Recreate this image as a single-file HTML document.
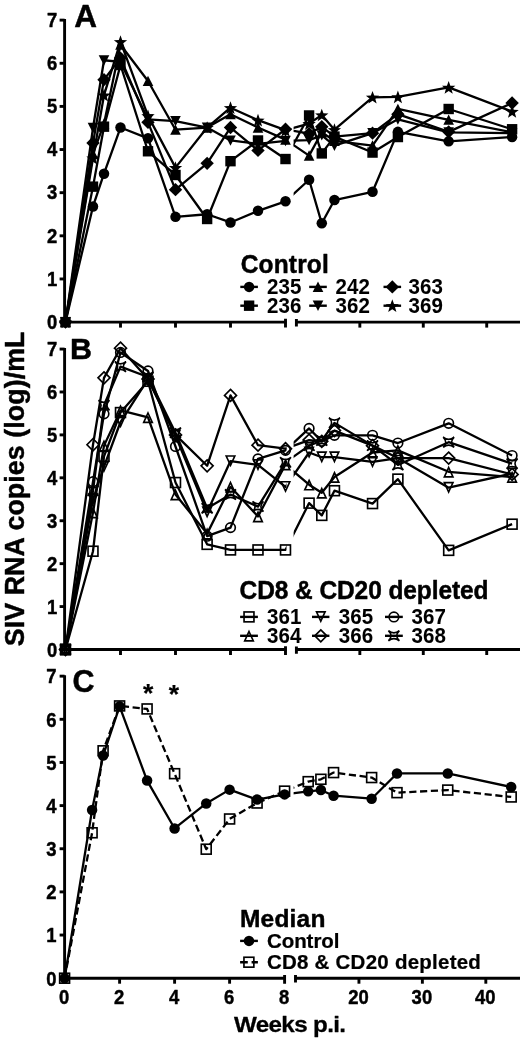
<!DOCTYPE html>
<html><head><meta charset="utf-8"><title>SIV RNA copies</title>
<style>html,body{margin:0;padding:0;background:#fff}svg{display:block}text{stroke:#000;stroke-width:.45px;stroke-linejoin:round}</style></head>
<body>
<svg width="520" height="1039" viewBox="0 0 520 1039" font-family="Liberation Sans, Arial, sans-serif" font-weight="bold" fill="#000">
<rect width="520" height="1039" fill="#fff"/>
<defs><clipPath id="cl"><rect x="0" y="0" width="286.5" height="1039"/><rect x="293.6" y="0" width="230" height="1039"/></clipPath></defs>
<g clip-path="url(#cl)" fill="none" stroke="#000" stroke-width="2.3" stroke-linejoin="round">
<polyline points="65.5,322.1 93,206.48 104,173.7 120.5,127.54 148,138.32 175.5,216.84 207.12,214.25 230.5,222.45 258,210.8 285.5,201.31 309.09,179.74 321.78,223.31 334.46,200.01 372.53,191.82 397.9,131.85 448.66,141.34 512.1,137.03"/>
<polyline points="65.5,322.1 93,186.64 104,126.68 120.5,64.99 148,151.27 175.5,174.99 207.12,219 230.5,161.19 258,140.48 285.5,159.03 309.09,115.46 321.78,153.42 334.46,136.6 372.53,152.56 397.9,137.03 448.66,108.99 512.1,129.26"/>
<polyline points="65.5,322.1 93,153.85 104,123.66 120.5,44.71 148,80.95 175.5,129.7 207.12,127.54 230.5,114.17 258,127.54 285.5,139.62 309.09,155.58 321.78,132.28 334.46,140.91 372.53,145.66 397.9,108.99 448.66,119.77 512.1,132.28"/>
<polyline points="65.5,322.1 93,127.97 104,60.24 120.5,61.97 148,119.34 175.5,121.07 207.12,127.54 230.5,140.48 258,143.93 285.5,140.91 309.09,140.05 321.78,135.3 334.46,145.66 372.53,133.15 397.9,119.34 448.66,132.28 512.1,133.15"/>
<polyline points="65.5,322.1 93,143.07 104,79.65 120.5,58.08 148,122.36 175.5,189.66 207.12,163.34 230.5,127.54 258,150.4 285.5,129.26 309.09,133.58 321.78,126.68 334.46,136.6 372.53,133.15 397.9,114.17 448.66,131.85 512.1,102.95"/>
<polyline points="65.5,322.1 93,158.17 104,95.18 120.5,41.69 148,115.89 175.5,167.66 207.12,127.54 230.5,107.69 258,120.2 285.5,130.13 309.09,123.66 321.78,115.03 334.46,129.7 372.53,97.34 397.9,96.91 448.66,87.42 512.1,111.58"/>
</g>
<g stroke="#000" stroke-width="2.9" fill="none">
<path d="M64.6 19.12V323.1"/>
<path d="M63.6 322.1H286.5M295.4 322.1H520"/>
<path d="M59.6 322.1H64.6"/>
<path d="M59.6 278.96H64.6"/>
<path d="M59.6 235.82H64.6"/>
<path d="M59.6 192.68H64.6"/>
<path d="M59.6 149.54H64.6"/>
<path d="M59.6 106.4H64.6"/>
<path d="M59.6 63.26H64.6"/>
<path d="M59.6 20.12H64.6"/>
<path d="M120.5 322.1V327.6"/>
<path d="M175.5 322.1V327.6"/>
<path d="M230.5 322.1V327.6"/>
<path d="M359.84 322.1V327.6"/>
<path d="M423.28 322.1V327.6"/>
<path d="M486.72 322.1V327.6"/>
<path d="M285.5 318.8V327.6M296.4 319V326.4"/>
</g>
<text transform="translate(57.32 328.9) scale(0.9 1.0)" font-size="20.5" text-anchor="end">0</text>
<text transform="translate(57.32 285.76) scale(0.9 1.0)" font-size="20.5" text-anchor="end">1</text>
<text transform="translate(57.32 242.62) scale(0.9 1.0)" font-size="20.5" text-anchor="end">2</text>
<text transform="translate(57.32 199.48) scale(0.9 1.0)" font-size="20.5" text-anchor="end">3</text>
<text transform="translate(57.32 156.34) scale(0.9 1.0)" font-size="20.5" text-anchor="end">4</text>
<text transform="translate(57.32 113.2) scale(0.9 1.0)" font-size="20.5" text-anchor="end">5</text>
<text transform="translate(57.32 70.06) scale(0.9 1.0)" font-size="20.5" text-anchor="end">6</text>
<text transform="translate(57.32 26.92) scale(0.9 1.0)" font-size="20.5" text-anchor="end">7</text>
<circle cx="65.5" cy="322.1" r="5.25" fill="#000" stroke="none"/>
<circle cx="93" cy="206.48" r="5.25" fill="#000" stroke="none"/>
<circle cx="104" cy="173.7" r="5.25" fill="#000" stroke="none"/>
<circle cx="120.5" cy="127.54" r="5.25" fill="#000" stroke="none"/>
<circle cx="148" cy="138.32" r="5.25" fill="#000" stroke="none"/>
<circle cx="175.5" cy="216.84" r="5.25" fill="#000" stroke="none"/>
<circle cx="207.12" cy="214.25" r="5.25" fill="#000" stroke="none"/>
<circle cx="230.5" cy="222.45" r="5.25" fill="#000" stroke="none"/>
<circle cx="258" cy="210.8" r="5.25" fill="#000" stroke="none"/>
<circle cx="285.5" cy="201.31" r="5.25" fill="#000" stroke="none"/>
<circle cx="309.09" cy="179.74" r="5.25" fill="#000" stroke="none"/>
<circle cx="321.78" cy="223.31" r="5.25" fill="#000" stroke="none"/>
<circle cx="334.46" cy="200.01" r="5.25" fill="#000" stroke="none"/>
<circle cx="372.53" cy="191.82" r="5.25" fill="#000" stroke="none"/>
<circle cx="397.9" cy="131.85" r="5.25" fill="#000" stroke="none"/>
<circle cx="448.66" cy="141.34" r="5.25" fill="#000" stroke="none"/>
<circle cx="512.1" cy="137.03" r="5.25" fill="#000" stroke="none"/>
<rect x="60.3" y="316.9" width="10.4" height="10.4" fill="#000" stroke="none"/>
<rect x="87.8" y="181.44" width="10.4" height="10.4" fill="#000" stroke="none"/>
<rect x="98.8" y="121.48" width="10.4" height="10.4" fill="#000" stroke="none"/>
<rect x="115.3" y="59.79" width="10.4" height="10.4" fill="#000" stroke="none"/>
<rect x="142.8" y="146.07" width="10.4" height="10.4" fill="#000" stroke="none"/>
<rect x="170.3" y="169.79" width="10.4" height="10.4" fill="#000" stroke="none"/>
<rect x="201.93" y="213.8" width="10.4" height="10.4" fill="#000" stroke="none"/>
<rect x="225.3" y="155.99" width="10.4" height="10.4" fill="#000" stroke="none"/>
<rect x="252.8" y="135.28" width="10.4" height="10.4" fill="#000" stroke="none"/>
<rect x="280.3" y="153.83" width="10.4" height="10.4" fill="#000" stroke="none"/>
<rect x="303.89" y="110.26" width="10.4" height="10.4" fill="#000" stroke="none"/>
<rect x="316.58" y="148.22" width="10.4" height="10.4" fill="#000" stroke="none"/>
<rect x="329.26" y="131.4" width="10.4" height="10.4" fill="#000" stroke="none"/>
<rect x="367.33" y="147.36" width="10.4" height="10.4" fill="#000" stroke="none"/>
<rect x="392.7" y="131.83" width="10.4" height="10.4" fill="#000" stroke="none"/>
<rect x="443.46" y="103.79" width="10.4" height="10.4" fill="#000" stroke="none"/>
<rect x="506.9" y="124.06" width="10.4" height="10.4" fill="#000" stroke="none"/>
<path d="M65.5 316.8L70.8 327.2L60.2 327.2Z" fill="#000" stroke="none"/>
<path d="M93 148.55L98.3 158.95L87.7 158.95Z" fill="#000" stroke="none"/>
<path d="M104 118.36L109.3 128.76L98.7 128.76Z" fill="#000" stroke="none"/>
<path d="M120.5 39.41L125.8 49.81L115.2 49.81Z" fill="#000" stroke="none"/>
<path d="M148 75.65L153.3 86.05L142.7 86.05Z" fill="#000" stroke="none"/>
<path d="M175.5 124.4L180.8 134.8L170.2 134.8Z" fill="#000" stroke="none"/>
<path d="M207.12 122.24L212.43 132.64L201.82 132.64Z" fill="#000" stroke="none"/>
<path d="M230.5 108.87L235.8 119.27L225.2 119.27Z" fill="#000" stroke="none"/>
<path d="M258 122.24L263.3 132.64L252.7 132.64Z" fill="#000" stroke="none"/>
<path d="M285.5 134.32L290.8 144.72L280.2 144.72Z" fill="#000" stroke="none"/>
<path d="M309.09 150.28L314.39 160.68L303.79 160.68Z" fill="#000" stroke="none"/>
<path d="M321.78 126.98L327.08 137.38L316.48 137.38Z" fill="#000" stroke="none"/>
<path d="M334.46 135.61L339.76 146.01L329.16 146.01Z" fill="#000" stroke="none"/>
<path d="M372.53 140.36L377.83 150.76L367.23 150.76Z" fill="#000" stroke="none"/>
<path d="M397.9 103.69L403.2 114.09L392.6 114.09Z" fill="#000" stroke="none"/>
<path d="M448.66 114.47L453.96 124.87L443.36 124.87Z" fill="#000" stroke="none"/>
<path d="M512.1 126.98L517.4 137.38L506.8 137.38Z" fill="#000" stroke="none"/>
<path d="M65.5 327.4L70.8 317L60.2 317Z" fill="#000" stroke="none"/>
<path d="M93 133.27L98.3 122.87L87.7 122.87Z" fill="#000" stroke="none"/>
<path d="M104 65.54L109.3 55.14L98.7 55.14Z" fill="#000" stroke="none"/>
<path d="M120.5 67.27L125.8 56.87L115.2 56.87Z" fill="#000" stroke="none"/>
<path d="M148 124.64L153.3 114.24L142.7 114.24Z" fill="#000" stroke="none"/>
<path d="M175.5 126.37L180.8 115.97L170.2 115.97Z" fill="#000" stroke="none"/>
<path d="M207.12 132.84L212.43 122.44L201.82 122.44Z" fill="#000" stroke="none"/>
<path d="M230.5 145.78L235.8 135.38L225.2 135.38Z" fill="#000" stroke="none"/>
<path d="M258 149.23L263.3 138.83L252.7 138.83Z" fill="#000" stroke="none"/>
<path d="M285.5 146.21L290.8 135.81L280.2 135.81Z" fill="#000" stroke="none"/>
<path d="M309.09 145.35L314.39 134.95L303.79 134.95Z" fill="#000" stroke="none"/>
<path d="M321.78 140.6L327.08 130.2L316.48 130.2Z" fill="#000" stroke="none"/>
<path d="M334.46 150.96L339.76 140.56L329.16 140.56Z" fill="#000" stroke="none"/>
<path d="M372.53 138.45L377.83 128.05L367.23 128.05Z" fill="#000" stroke="none"/>
<path d="M397.9 124.64L403.2 114.24L392.6 114.24Z" fill="#000" stroke="none"/>
<path d="M448.66 137.58L453.96 127.18L443.36 127.18Z" fill="#000" stroke="none"/>
<path d="M512.1 138.45L517.4 128.05L506.8 128.05Z" fill="#000" stroke="none"/>
<path d="M65.5 315.4L72.2 322.1L65.5 328.8L58.8 322.1Z" fill="#000" stroke="none"/>
<path d="M93 136.37L99.7 143.07L93 149.77L86.3 143.07Z" fill="#000" stroke="none"/>
<path d="M104 72.95L110.7 79.65L104 86.35L97.3 79.65Z" fill="#000" stroke="none"/>
<path d="M120.5 51.38L127.2 58.08L120.5 64.78L113.8 58.08Z" fill="#000" stroke="none"/>
<path d="M148 115.66L154.7 122.36L148 129.06L141.3 122.36Z" fill="#000" stroke="none"/>
<path d="M175.5 182.96L182.2 189.66L175.5 196.36L168.8 189.66Z" fill="#000" stroke="none"/>
<path d="M207.12 156.64L213.82 163.34L207.12 170.04L200.43 163.34Z" fill="#000" stroke="none"/>
<path d="M230.5 120.84L237.2 127.54L230.5 134.24L223.8 127.54Z" fill="#000" stroke="none"/>
<path d="M258 143.7L264.7 150.4L258 157.1L251.3 150.4Z" fill="#000" stroke="none"/>
<path d="M285.5 122.56L292.2 129.26L285.5 135.96L278.8 129.26Z" fill="#000" stroke="none"/>
<path d="M309.09 126.88L315.79 133.58L309.09 140.28L302.39 133.58Z" fill="#000" stroke="none"/>
<path d="M321.78 119.98L328.48 126.68L321.78 133.38L315.08 126.68Z" fill="#000" stroke="none"/>
<path d="M334.46 129.9L341.16 136.6L334.46 143.3L327.76 136.6Z" fill="#000" stroke="none"/>
<path d="M372.53 126.45L379.23 133.15L372.53 139.85L365.83 133.15Z" fill="#000" stroke="none"/>
<path d="M397.9 107.47L404.6 114.17L397.9 120.87L391.2 114.17Z" fill="#000" stroke="none"/>
<path d="M448.66 125.15L455.36 131.85L448.66 138.55L441.96 131.85Z" fill="#000" stroke="none"/>
<path d="M512.1 96.25L518.8 102.95L512.1 109.65L505.4 102.95Z" fill="#000" stroke="none"/>
<path d="M65.5 315.7L67.2 320.35L72.16 320.54L68.26 323.6L69.61 328.36L65.5 325.6L61.39 328.36L62.74 323.6L58.84 320.54L63.8 320.35Z" fill="#000" stroke="none"/>
<path d="M93 151.77L94.7 156.42L99.66 156.6L95.76 159.66L97.11 164.43L93 161.67L88.89 164.43L90.24 159.66L86.34 156.6L91.3 156.42Z" fill="#000" stroke="none"/>
<path d="M104 88.78L105.7 93.44L110.66 93.62L106.76 96.68L108.11 101.45L104 98.68L99.89 101.45L101.24 96.68L97.34 93.62L102.3 93.44Z" fill="#000" stroke="none"/>
<path d="M120.5 35.29L122.2 39.94L127.16 40.13L123.26 43.19L124.61 47.95L120.5 45.19L116.39 47.95L117.74 43.19L113.84 40.13L118.8 39.94Z" fill="#000" stroke="none"/>
<path d="M148 109.49L149.7 114.14L154.66 114.33L150.76 117.39L152.11 122.15L148 119.39L143.89 122.15L145.24 117.39L141.34 114.33L146.3 114.14Z" fill="#000" stroke="none"/>
<path d="M175.5 161.26L177.2 165.91L182.16 166.1L178.26 169.15L179.61 173.92L175.5 171.16L171.39 173.92L172.74 169.15L168.84 166.1L173.8 165.91Z" fill="#000" stroke="none"/>
<path d="M207.12 121.14L208.83 125.79L213.78 125.98L209.88 129.03L211.24 133.8L207.12 131.04L203.01 133.8L204.37 129.03L200.47 125.98L205.42 125.79Z" fill="#000" stroke="none"/>
<path d="M230.5 101.29L232.2 105.95L237.16 106.13L233.26 109.19L234.61 113.96L230.5 111.19L226.39 113.96L227.74 109.19L223.84 106.13L228.8 105.95Z" fill="#000" stroke="none"/>
<path d="M258 113.8L259.7 118.46L264.66 118.64L260.76 121.7L262.11 126.47L258 123.7L253.89 126.47L255.24 121.7L251.34 118.64L256.3 118.46Z" fill="#000" stroke="none"/>
<path d="M285.5 123.73L287.2 128.38L292.16 128.56L288.26 131.62L289.61 136.39L285.5 133.63L281.39 136.39L282.74 131.62L278.84 128.56L283.8 128.38Z" fill="#000" stroke="none"/>
<path d="M309.09 117.26L310.79 121.91L315.75 122.09L311.85 125.15L313.2 129.92L309.09 127.16L304.97 129.92L306.33 125.15L302.43 122.09L307.38 121.91Z" fill="#000" stroke="none"/>
<path d="M321.78 108.63L323.48 113.28L328.43 113.46L324.53 116.52L325.89 121.29L321.78 118.53L317.66 121.29L319.02 116.52L315.12 113.46L320.07 113.28Z" fill="#000" stroke="none"/>
<path d="M334.46 123.3L336.17 127.95L341.12 128.13L337.22 131.19L338.58 135.96L334.46 133.2L330.35 135.96L331.71 131.19L327.81 128.13L332.76 127.95Z" fill="#000" stroke="none"/>
<path d="M372.53 90.94L374.23 95.59L379.19 95.78L375.29 98.84L376.64 103.6L372.53 100.84L368.41 103.6L369.77 98.84L365.87 95.78L370.82 95.59Z" fill="#000" stroke="none"/>
<path d="M397.9 90.51L399.61 95.16L404.56 95.35L400.66 98.41L402.02 103.17L397.9 100.41L393.79 103.17L395.15 98.41L391.25 95.35L396.2 95.16Z" fill="#000" stroke="none"/>
<path d="M448.66 81.02L450.36 85.67L455.31 85.86L451.41 88.91L452.77 93.68L448.66 90.92L444.54 93.68L445.9 88.91L442 85.86L446.95 85.67Z" fill="#000" stroke="none"/>
<path d="M512.1 105.18L513.8 109.83L518.75 110.01L514.85 113.07L516.21 117.84L512.1 115.08L507.98 117.84L509.34 113.07L505.44 110.01L510.39 109.83Z" fill="#000" stroke="none"/>
<g clip-path="url(#cl)" fill="none" stroke="#000" stroke-width="2.3" stroke-linejoin="round">
<polyline points="65.5,649.5 93,551.21 104,456.36 120.5,412.58 148,381.25 175.5,482.54 207.12,544.35 230.5,549.93 258,549.93 285.5,549.93 309.09,503.14 321.78,515.38 334.46,490.7 372.53,503.57 397.9,479.11 448.66,550.35 512.1,524.17"/>
<polyline points="65.5,649.5 93,512.59 104,445.63 120.5,410.44 148,417.3 175.5,494.56 207.12,533.62 230.5,486.83 258,516.45 285.5,464.51 309.09,484.69 321.78,492.84 334.46,476.96 372.53,452.5 397.9,450.35 448.66,471.81 512.1,476.96"/>
<polyline points="65.5,649.5 93,499.28 104,466.66 120.5,422.02 148,379.1 175.5,435.76 207.12,512.16 230.5,461.08 258,464.94 285.5,486.83 309.09,452.5 321.78,457.22 334.46,457.22 372.53,461.94 397.9,458.08 448.66,487.69 512.1,473.53"/>
<polyline points="65.5,649.5 93,444.77 104,377.82 120.5,348.2 148,379.1 175.5,434.9 207.12,465.8 230.5,395.41 258,445.2 285.5,448.63 309.09,440.05 321.78,441.34 334.46,430.61 372.53,445.63 397.9,458.08 448.66,458.08 512.1,474.39"/>
<polyline points="65.5,649.5 93,481.68 104,413.87 120.5,352.49 148,370.95 175.5,446.49 207.12,536.19 230.5,527.61 258,458.94 285.5,450.35 309.09,428.46 321.78,441.34 334.46,435.33 372.53,435.33 397.9,443.05 448.66,423.31 512.1,455.5"/>
<polyline points="65.5,649.5 93,490.7 104,405.29 120.5,366.66 148,376.96 175.5,432.75 207.12,508.29 230.5,494.56 258,506.58 285.5,462.37 309.09,445.63 321.78,440.48 334.46,422.88 372.53,445.63 397.9,464.94 448.66,442.2 512.1,463.66"/>
</g>
<g stroke="#000" stroke-width="2.9" fill="none">
<path d="M64.6 348.06V650.5"/>
<path d="M63.6 649.5H286.5M295.4 649.5H520"/>
<path d="M59.6 649.5H64.6"/>
<path d="M59.6 606.58H64.6"/>
<path d="M59.6 563.66H64.6"/>
<path d="M59.6 520.74H64.6"/>
<path d="M59.6 477.82H64.6"/>
<path d="M59.6 434.9H64.6"/>
<path d="M59.6 391.98H64.6"/>
<path d="M59.6 349.06H64.6"/>
<path d="M120.5 649.5V655"/>
<path d="M175.5 649.5V655"/>
<path d="M230.5 649.5V655"/>
<path d="M359.84 649.5V655"/>
<path d="M423.28 649.5V655"/>
<path d="M486.72 649.5V655"/>
<path d="M285.5 646.2V655M296.4 646.4V653.8"/>
</g>
<text transform="translate(57.32 656.8) scale(0.9 1.0)" font-size="20.5" text-anchor="end">0</text>
<text transform="translate(57.32 613.88) scale(0.9 1.0)" font-size="20.5" text-anchor="end">1</text>
<text transform="translate(57.32 570.96) scale(0.9 1.0)" font-size="20.5" text-anchor="end">2</text>
<text transform="translate(57.32 528.04) scale(0.9 1.0)" font-size="20.5" text-anchor="end">3</text>
<text transform="translate(57.32 485.12) scale(0.9 1.0)" font-size="20.5" text-anchor="end">4</text>
<text transform="translate(57.32 442.2) scale(0.9 1.0)" font-size="20.5" text-anchor="end">5</text>
<text transform="translate(57.32 399.28) scale(0.9 1.0)" font-size="20.5" text-anchor="end">6</text>
<text transform="translate(57.32 356.36) scale(0.9 1.0)" font-size="20.5" text-anchor="end">7</text>
<rect x="60.55" y="644.55" width="9.9" height="9.9" fill="none" stroke="#000" stroke-width="1.65"/>
<rect x="88.05" y="546.26" width="9.9" height="9.9" fill="none" stroke="#000" stroke-width="1.65"/>
<rect x="99.05" y="451.41" width="9.9" height="9.9" fill="none" stroke="#000" stroke-width="1.65"/>
<rect x="115.55" y="407.63" width="9.9" height="9.9" fill="none" stroke="#000" stroke-width="1.65"/>
<rect x="143.05" y="376.3" width="9.9" height="9.9" fill="none" stroke="#000" stroke-width="1.65"/>
<rect x="170.55" y="477.59" width="9.9" height="9.9" fill="none" stroke="#000" stroke-width="1.65"/>
<rect x="202.18" y="539.4" width="9.9" height="9.9" fill="none" stroke="#000" stroke-width="1.65"/>
<rect x="225.55" y="544.98" width="9.9" height="9.9" fill="none" stroke="#000" stroke-width="1.65"/>
<rect x="253.05" y="544.98" width="9.9" height="9.9" fill="none" stroke="#000" stroke-width="1.65"/>
<rect x="280.55" y="544.98" width="9.9" height="9.9" fill="none" stroke="#000" stroke-width="1.65"/>
<rect x="304.14" y="498.19" width="9.9" height="9.9" fill="none" stroke="#000" stroke-width="1.65"/>
<rect x="316.83" y="510.43" width="9.9" height="9.9" fill="none" stroke="#000" stroke-width="1.65"/>
<rect x="329.51" y="485.75" width="9.9" height="9.9" fill="none" stroke="#000" stroke-width="1.65"/>
<rect x="367.58" y="498.62" width="9.9" height="9.9" fill="none" stroke="#000" stroke-width="1.65"/>
<rect x="392.95" y="474.16" width="9.9" height="9.9" fill="none" stroke="#000" stroke-width="1.65"/>
<rect x="443.71" y="545.4" width="9.9" height="9.9" fill="none" stroke="#000" stroke-width="1.65"/>
<rect x="507.15" y="519.22" width="9.9" height="9.9" fill="none" stroke="#000" stroke-width="1.65"/>
<path d="M65.5 645.2L69.8 654.6L61.2 654.6Z" fill="none" stroke="#000" stroke-width="1.65"/>
<path d="M93 508.29L97.3 517.69L88.7 517.69Z" fill="none" stroke="#000" stroke-width="1.65"/>
<path d="M104 441.33L108.3 450.73L99.7 450.73Z" fill="none" stroke="#000" stroke-width="1.65"/>
<path d="M120.5 406.14L124.8 415.54L116.2 415.54Z" fill="none" stroke="#000" stroke-width="1.65"/>
<path d="M148 413L152.3 422.4L143.7 422.4Z" fill="none" stroke="#000" stroke-width="1.65"/>
<path d="M175.5 490.26L179.8 499.66L171.2 499.66Z" fill="none" stroke="#000" stroke-width="1.65"/>
<path d="M207.12 529.32L211.43 538.72L202.82 538.72Z" fill="none" stroke="#000" stroke-width="1.65"/>
<path d="M230.5 482.53L234.8 491.93L226.2 491.93Z" fill="none" stroke="#000" stroke-width="1.65"/>
<path d="M258 512.15L262.3 521.55L253.7 521.55Z" fill="none" stroke="#000" stroke-width="1.65"/>
<path d="M285.5 460.21L289.8 469.61L281.2 469.61Z" fill="none" stroke="#000" stroke-width="1.65"/>
<path d="M309.09 480.39L313.39 489.79L304.79 489.79Z" fill="none" stroke="#000" stroke-width="1.65"/>
<path d="M321.78 488.54L326.08 497.94L317.48 497.94Z" fill="none" stroke="#000" stroke-width="1.65"/>
<path d="M334.46 472.66L338.76 482.06L330.16 482.06Z" fill="none" stroke="#000" stroke-width="1.65"/>
<path d="M372.53 448.2L376.83 457.6L368.23 457.6Z" fill="none" stroke="#000" stroke-width="1.65"/>
<path d="M397.9 446.05L402.2 455.45L393.6 455.45Z" fill="none" stroke="#000" stroke-width="1.65"/>
<path d="M448.66 467.51L452.96 476.91L444.36 476.91Z" fill="none" stroke="#000" stroke-width="1.65"/>
<path d="M512.1 472.66L516.4 482.06L507.8 482.06Z" fill="none" stroke="#000" stroke-width="1.65"/>
<path d="M65.5 653.8L69.8 644.4L61.2 644.4Z" fill="none" stroke="#000" stroke-width="1.65"/>
<path d="M93 503.58L97.3 494.18L88.7 494.18Z" fill="none" stroke="#000" stroke-width="1.65"/>
<path d="M104 470.96L108.3 461.56L99.7 461.56Z" fill="none" stroke="#000" stroke-width="1.65"/>
<path d="M120.5 426.32L124.8 416.92L116.2 416.92Z" fill="none" stroke="#000" stroke-width="1.65"/>
<path d="M148 383.4L152.3 374L143.7 374Z" fill="none" stroke="#000" stroke-width="1.65"/>
<path d="M175.5 440.06L179.8 430.66L171.2 430.66Z" fill="none" stroke="#000" stroke-width="1.65"/>
<path d="M207.12 516.46L211.43 507.06L202.82 507.06Z" fill="none" stroke="#000" stroke-width="1.65"/>
<path d="M230.5 465.38L234.8 455.98L226.2 455.98Z" fill="none" stroke="#000" stroke-width="1.65"/>
<path d="M258 469.24L262.3 459.84L253.7 459.84Z" fill="none" stroke="#000" stroke-width="1.65"/>
<path d="M285.5 491.13L289.8 481.73L281.2 481.73Z" fill="none" stroke="#000" stroke-width="1.65"/>
<path d="M309.09 456.8L313.39 447.4L304.79 447.4Z" fill="none" stroke="#000" stroke-width="1.65"/>
<path d="M321.78 461.52L326.08 452.12L317.48 452.12Z" fill="none" stroke="#000" stroke-width="1.65"/>
<path d="M334.46 461.52L338.76 452.12L330.16 452.12Z" fill="none" stroke="#000" stroke-width="1.65"/>
<path d="M372.53 466.24L376.83 456.84L368.23 456.84Z" fill="none" stroke="#000" stroke-width="1.65"/>
<path d="M397.9 462.38L402.2 452.98L393.6 452.98Z" fill="none" stroke="#000" stroke-width="1.65"/>
<path d="M448.66 491.99L452.96 482.59L444.36 482.59Z" fill="none" stroke="#000" stroke-width="1.65"/>
<path d="M512.1 477.83L516.4 468.43L507.8 468.43Z" fill="none" stroke="#000" stroke-width="1.65"/>
<path d="M65.5 643.5L71.5 649.5L65.5 655.5L59.5 649.5Z" fill="none" stroke="#000" stroke-width="1.65"/>
<path d="M93 438.77L99 444.77L93 450.77L87 444.77Z" fill="none" stroke="#000" stroke-width="1.65"/>
<path d="M104 371.82L110 377.82L104 383.82L98 377.82Z" fill="none" stroke="#000" stroke-width="1.65"/>
<path d="M120.5 342.2L126.5 348.2L120.5 354.2L114.5 348.2Z" fill="none" stroke="#000" stroke-width="1.65"/>
<path d="M148 373.1L154 379.1L148 385.1L142 379.1Z" fill="none" stroke="#000" stroke-width="1.65"/>
<path d="M175.5 428.9L181.5 434.9L175.5 440.9L169.5 434.9Z" fill="none" stroke="#000" stroke-width="1.65"/>
<path d="M207.12 459.8L213.12 465.8L207.12 471.8L201.12 465.8Z" fill="none" stroke="#000" stroke-width="1.65"/>
<path d="M230.5 389.41L236.5 395.41L230.5 401.41L224.5 395.41Z" fill="none" stroke="#000" stroke-width="1.65"/>
<path d="M258 439.2L264 445.2L258 451.2L252 445.2Z" fill="none" stroke="#000" stroke-width="1.65"/>
<path d="M285.5 442.63L291.5 448.63L285.5 454.63L279.5 448.63Z" fill="none" stroke="#000" stroke-width="1.65"/>
<path d="M309.09 434.05L315.09 440.05L309.09 446.05L303.09 440.05Z" fill="none" stroke="#000" stroke-width="1.65"/>
<path d="M321.78 435.34L327.78 441.34L321.78 447.34L315.78 441.34Z" fill="none" stroke="#000" stroke-width="1.65"/>
<path d="M334.46 424.61L340.46 430.61L334.46 436.61L328.46 430.61Z" fill="none" stroke="#000" stroke-width="1.65"/>
<path d="M372.53 439.63L378.53 445.63L372.53 451.63L366.53 445.63Z" fill="none" stroke="#000" stroke-width="1.65"/>
<path d="M397.9 452.08L403.9 458.08L397.9 464.08L391.9 458.08Z" fill="none" stroke="#000" stroke-width="1.65"/>
<path d="M448.66 452.08L454.66 458.08L448.66 464.08L442.66 458.08Z" fill="none" stroke="#000" stroke-width="1.65"/>
<path d="M512.1 468.39L518.1 474.39L512.1 480.39L506.1 474.39Z" fill="none" stroke="#000" stroke-width="1.65"/>
<circle cx="65.5" cy="649.5" r="4.8" fill="none" stroke="#000" stroke-width="1.65"/>
<circle cx="93" cy="481.68" r="4.8" fill="none" stroke="#000" stroke-width="1.65"/>
<circle cx="104" cy="413.87" r="4.8" fill="none" stroke="#000" stroke-width="1.65"/>
<circle cx="120.5" cy="352.49" r="4.8" fill="none" stroke="#000" stroke-width="1.65"/>
<circle cx="148" cy="370.95" r="4.8" fill="none" stroke="#000" stroke-width="1.65"/>
<circle cx="175.5" cy="446.49" r="4.8" fill="none" stroke="#000" stroke-width="1.65"/>
<circle cx="207.12" cy="536.19" r="4.8" fill="none" stroke="#000" stroke-width="1.65"/>
<circle cx="230.5" cy="527.61" r="4.8" fill="none" stroke="#000" stroke-width="1.65"/>
<circle cx="258" cy="458.94" r="4.8" fill="none" stroke="#000" stroke-width="1.65"/>
<circle cx="285.5" cy="450.35" r="4.8" fill="none" stroke="#000" stroke-width="1.65"/>
<circle cx="309.09" cy="428.46" r="4.8" fill="none" stroke="#000" stroke-width="1.65"/>
<circle cx="321.78" cy="441.34" r="4.8" fill="none" stroke="#000" stroke-width="1.65"/>
<circle cx="334.46" cy="435.33" r="4.8" fill="none" stroke="#000" stroke-width="1.65"/>
<circle cx="372.53" cy="435.33" r="4.8" fill="none" stroke="#000" stroke-width="1.65"/>
<circle cx="397.9" cy="443.05" r="4.8" fill="none" stroke="#000" stroke-width="1.65"/>
<circle cx="448.66" cy="423.31" r="4.8" fill="none" stroke="#000" stroke-width="1.65"/>
<circle cx="512.1" cy="455.5" r="4.8" fill="none" stroke="#000" stroke-width="1.65"/>
<path d="M60 644.4Q65.5 648.9 71 644.4Q65.8 649.5 71 654.6Q65.5 650.1 60 654.6Q65.2 649.5 60 644.4Z" fill="none" stroke="#000" stroke-width="1.65" stroke-linejoin="miter" stroke-miterlimit="2"/>
<path d="M87.5 485.6Q93 490.1 98.5 485.6Q93.3 490.7 98.5 495.8Q93 491.3 87.5 495.8Q92.7 490.7 87.5 485.6Z" fill="none" stroke="#000" stroke-width="1.65" stroke-linejoin="miter" stroke-miterlimit="2"/>
<path d="M98.5 400.19Q104 404.69 109.5 400.19Q104.3 405.29 109.5 410.39Q104 405.89 98.5 410.39Q103.7 405.29 98.5 400.19Z" fill="none" stroke="#000" stroke-width="1.65" stroke-linejoin="miter" stroke-miterlimit="2"/>
<path d="M115 361.56Q120.5 366.06 126 361.56Q120.8 366.66 126 371.76Q120.5 367.26 115 371.76Q120.2 366.66 115 361.56Z" fill="none" stroke="#000" stroke-width="1.65" stroke-linejoin="miter" stroke-miterlimit="2"/>
<path d="M142.5 371.86Q148 376.36 153.5 371.86Q148.3 376.96 153.5 382.06Q148 377.56 142.5 382.06Q147.7 376.96 142.5 371.86Z" fill="none" stroke="#000" stroke-width="1.65" stroke-linejoin="miter" stroke-miterlimit="2"/>
<path d="M170 427.65Q175.5 432.15 181 427.65Q175.8 432.75 181 437.85Q175.5 433.35 170 437.85Q175.2 432.75 170 427.65Z" fill="none" stroke="#000" stroke-width="1.65" stroke-linejoin="miter" stroke-miterlimit="2"/>
<path d="M201.62 503.19Q207.12 507.69 212.62 503.19Q207.43 508.29 212.62 513.39Q207.12 508.89 201.62 513.39Q206.82 508.29 201.62 503.19Z" fill="none" stroke="#000" stroke-width="1.65" stroke-linejoin="miter" stroke-miterlimit="2"/>
<path d="M225 489.46Q230.5 493.96 236 489.46Q230.8 494.56 236 499.66Q230.5 495.16 225 499.66Q230.2 494.56 225 489.46Z" fill="none" stroke="#000" stroke-width="1.65" stroke-linejoin="miter" stroke-miterlimit="2"/>
<path d="M252.5 501.48Q258 505.98 263.5 501.48Q258.3 506.58 263.5 511.68Q258 507.18 252.5 511.68Q257.7 506.58 252.5 501.48Z" fill="none" stroke="#000" stroke-width="1.65" stroke-linejoin="miter" stroke-miterlimit="2"/>
<path d="M280 457.27Q285.5 461.77 291 457.27Q285.8 462.37 291 467.47Q285.5 462.97 280 467.47Q285.2 462.37 280 457.27Z" fill="none" stroke="#000" stroke-width="1.65" stroke-linejoin="miter" stroke-miterlimit="2"/>
<path d="M303.59 440.53Q309.09 445.03 314.59 440.53Q309.39 445.63 314.59 450.73Q309.09 446.23 303.59 450.73Q308.79 445.63 303.59 440.53Z" fill="none" stroke="#000" stroke-width="1.65" stroke-linejoin="miter" stroke-miterlimit="2"/>
<path d="M316.28 435.38Q321.78 439.88 327.28 435.38Q322.08 440.48 327.28 445.58Q321.78 441.08 316.28 445.58Q321.48 440.48 316.28 435.38Z" fill="none" stroke="#000" stroke-width="1.65" stroke-linejoin="miter" stroke-miterlimit="2"/>
<path d="M328.96 417.78Q334.46 422.28 339.96 417.78Q334.76 422.88 339.96 427.98Q334.46 423.48 328.96 427.98Q334.16 422.88 328.96 417.78Z" fill="none" stroke="#000" stroke-width="1.65" stroke-linejoin="miter" stroke-miterlimit="2"/>
<path d="M367.03 440.53Q372.53 445.03 378.03 440.53Q372.83 445.63 378.03 450.73Q372.53 446.23 367.03 450.73Q372.23 445.63 367.03 440.53Z" fill="none" stroke="#000" stroke-width="1.65" stroke-linejoin="miter" stroke-miterlimit="2"/>
<path d="M392.4 459.84Q397.9 464.34 403.4 459.84Q398.2 464.94 403.4 470.04Q397.9 465.54 392.4 470.04Q397.6 464.94 392.4 459.84Z" fill="none" stroke="#000" stroke-width="1.65" stroke-linejoin="miter" stroke-miterlimit="2"/>
<path d="M443.16 437.1Q448.66 441.6 454.16 437.1Q448.96 442.2 454.16 447.3Q448.66 442.8 443.16 447.3Q448.36 442.2 443.16 437.1Z" fill="none" stroke="#000" stroke-width="1.65" stroke-linejoin="miter" stroke-miterlimit="2"/>
<path d="M506.6 458.56Q512.1 463.06 517.6 458.56Q512.4 463.66 517.6 468.76Q512.1 464.26 506.6 468.76Q511.8 463.66 506.6 458.56Z" fill="none" stroke="#000" stroke-width="1.65" stroke-linejoin="miter" stroke-miterlimit="2"/>
<g clip-path="url(#cl)" fill="none" stroke="#000" stroke-width="2.3" stroke-linejoin="round">
<polyline points="64.6,978.2 92.1,809.92 103.1,755.55 119.6,706.36 147.1,780.57 174.6,828.47 206.22,803.44 229.6,789.63 257.1,799.56 284.6,794.38 308.19,791.36 320.88,790.07 333.56,795.68 371.63,798.7 397,773.45 447.76,773.45 511.2,787.05"/>
<polyline points="64.6,978.2 92.1,832.78 103.1,750.8 119.6,705.92 147.1,708.94 174.6,773.67 206.22,849.18 229.6,818.98 257.1,803.01 284.6,791.14 308.19,781.65 320.88,779.28 333.56,772.59 371.63,777.55 397,792.66 447.76,790.07 511.2,796.97" stroke-dasharray="7.2 3.6"/>
</g>
<g stroke="#000" stroke-width="2.9" fill="none">
<path d="M64.6 675.15V979.2"/>
<path d="M63.6 978.2H285.6M294.5 978.2H520"/>
<path d="M59.6 978.2H64.6"/>
<path d="M59.6 935.05H64.6"/>
<path d="M59.6 891.9H64.6"/>
<path d="M59.6 848.75H64.6"/>
<path d="M59.6 805.6H64.6"/>
<path d="M59.6 762.45H64.6"/>
<path d="M59.6 719.3H64.6"/>
<path d="M59.6 676.15H64.6"/>
<path d="M119.6 978.2V983.7"/>
<path d="M174.6 978.2V983.7"/>
<path d="M229.6 978.2V983.7"/>
<path d="M358.94 978.2V983.7"/>
<path d="M422.38 978.2V983.7"/>
<path d="M485.82 978.2V983.7"/>
<path d="M284.6 974.9V983.7M295.5 975.1V982.5"/>
</g>
<text transform="translate(56.6 985.5) scale(0.9 1.0)" font-size="20.5" text-anchor="end">0</text>
<text transform="translate(56.6 942.35) scale(0.9 1.0)" font-size="20.5" text-anchor="end">1</text>
<text transform="translate(56.6 899.2) scale(0.9 1.0)" font-size="20.5" text-anchor="end">2</text>
<text transform="translate(56.6 856.05) scale(0.9 1.0)" font-size="20.5" text-anchor="end">3</text>
<text transform="translate(56.6 812.9) scale(0.9 1.0)" font-size="20.5" text-anchor="end">4</text>
<text transform="translate(56.6 769.75) scale(0.9 1.0)" font-size="20.5" text-anchor="end">5</text>
<text transform="translate(56.6 726.6) scale(0.9 1.0)" font-size="20.5" text-anchor="end">6</text>
<text transform="translate(56.6 683.45) scale(0.9 1.0)" font-size="20.5" text-anchor="end">7</text>
<circle cx="64.6" cy="978.2" r="5.25" fill="#000" stroke="none"/>
<circle cx="92.1" cy="809.92" r="5.25" fill="#000" stroke="none"/>
<circle cx="103.1" cy="755.55" r="5.25" fill="#000" stroke="none"/>
<circle cx="119.6" cy="706.36" r="5.25" fill="#000" stroke="none"/>
<circle cx="147.1" cy="780.57" r="5.25" fill="#000" stroke="none"/>
<circle cx="174.6" cy="828.47" r="5.25" fill="#000" stroke="none"/>
<circle cx="206.22" cy="803.44" r="5.25" fill="#000" stroke="none"/>
<circle cx="229.6" cy="789.63" r="5.25" fill="#000" stroke="none"/>
<circle cx="257.1" cy="799.56" r="5.25" fill="#000" stroke="none"/>
<circle cx="284.6" cy="794.38" r="5.25" fill="#000" stroke="none"/>
<circle cx="308.19" cy="791.36" r="5.25" fill="#000" stroke="none"/>
<circle cx="320.88" cy="790.07" r="5.25" fill="#000" stroke="none"/>
<circle cx="333.56" cy="795.68" r="5.25" fill="#000" stroke="none"/>
<circle cx="371.63" cy="798.7" r="5.25" fill="#000" stroke="none"/>
<circle cx="397" cy="773.45" r="5.25" fill="#000" stroke="none"/>
<circle cx="447.76" cy="773.45" r="5.25" fill="#000" stroke="none"/>
<circle cx="511.2" cy="787.05" r="5.25" fill="#000" stroke="none"/>
<rect x="59.65" y="973.25" width="9.9" height="9.9" fill="none" stroke="#000" stroke-width="1.65"/>
<rect x="87.15" y="827.83" width="9.9" height="9.9" fill="none" stroke="#000" stroke-width="1.65"/>
<rect x="98.15" y="745.85" width="9.9" height="9.9" fill="none" stroke="#000" stroke-width="1.65"/>
<rect x="114.65" y="700.97" width="9.9" height="9.9" fill="none" stroke="#000" stroke-width="1.65"/>
<rect x="142.15" y="703.99" width="9.9" height="9.9" fill="none" stroke="#000" stroke-width="1.65"/>
<rect x="169.65" y="768.72" width="9.9" height="9.9" fill="none" stroke="#000" stroke-width="1.65"/>
<rect x="201.28" y="844.23" width="9.9" height="9.9" fill="none" stroke="#000" stroke-width="1.65"/>
<rect x="224.65" y="814.03" width="9.9" height="9.9" fill="none" stroke="#000" stroke-width="1.65"/>
<rect x="252.15" y="798.06" width="9.9" height="9.9" fill="none" stroke="#000" stroke-width="1.65"/>
<rect x="279.65" y="786.19" width="9.9" height="9.9" fill="none" stroke="#000" stroke-width="1.65"/>
<rect x="303.24" y="776.7" width="9.9" height="9.9" fill="none" stroke="#000" stroke-width="1.65"/>
<rect x="315.93" y="774.33" width="9.9" height="9.9" fill="none" stroke="#000" stroke-width="1.65"/>
<rect x="328.61" y="767.64" width="9.9" height="9.9" fill="none" stroke="#000" stroke-width="1.65"/>
<rect x="366.68" y="772.6" width="9.9" height="9.9" fill="none" stroke="#000" stroke-width="1.65"/>
<rect x="392.05" y="787.71" width="9.9" height="9.9" fill="none" stroke="#000" stroke-width="1.65"/>
<rect x="442.81" y="785.12" width="9.9" height="9.9" fill="none" stroke="#000" stroke-width="1.65"/>
<rect x="506.25" y="792.02" width="9.9" height="9.9" fill="none" stroke="#000" stroke-width="1.65"/>
<text transform="translate(64.1 1004) scale(0.9 1.0)" font-size="20.5" text-anchor="middle">0</text>
<text transform="translate(119.1 1004) scale(0.9 1.0)" font-size="20.5" text-anchor="middle">2</text>
<text transform="translate(174.1 1004) scale(0.9 1.0)" font-size="20.5" text-anchor="middle">4</text>
<text transform="translate(229.1 1004) scale(0.9 1.0)" font-size="20.5" text-anchor="middle">6</text>
<text transform="translate(284.1 1004) scale(0.9 1.0)" font-size="20.5" text-anchor="middle">8</text>
<text transform="translate(358.44 1004) scale(0.9 1.0)" font-size="20.5" text-anchor="middle">20</text>
<text transform="translate(421.88 1004) scale(0.9 1.0)" font-size="20.5" text-anchor="middle">30</text>
<text transform="translate(485.32 1004) scale(0.9 1.0)" font-size="20.5" text-anchor="middle">40</text>
<text transform="translate(290 1032.3) scale(1.0 0.92)" font-size="24.2" text-anchor="middle" textLength="112" lengthAdjust="spacing" style="stroke-width:.3px">Weeks p.i.</text>
<text transform="translate(24,488.9) rotate(-90)" font-size="26.8" text-anchor="middle" textLength="314.8" lengthAdjust="spacing">SIV RNA copies (log)/mL</text>
<text x="74.3" y="26.7" font-size="31.5" text-anchor="start">A</text>
<text transform="translate(69.9 358.5) scale(1.05 1.0)" font-size="29" text-anchor="start">B</text>
<text x="72.5" y="691.7" font-size="30.5" text-anchor="start">C</text>
<text x="148.2" y="702.3" font-size="26.5" text-anchor="middle" style="stroke-width:.2px">*</text>
<text x="173.8" y="703" font-size="26.5" text-anchor="middle" style="stroke-width:.2px">*</text>
<text transform="translate(240.8 272.7) scale(1.0 1.08)" font-size="24.5" text-anchor="start" textLength="88" lengthAdjust="spacing">Control</text>
<path d="M240.3 286.9H257.9" stroke="#000" stroke-width="2.4" fill="none"/>
<circle cx="249.1" cy="286.9" r="5.25" fill="#000" stroke="none"/>
<text transform="translate(267 293.9) scale(1.0 1.04)" font-size="20.5" text-anchor="start" textLength="34.4" lengthAdjust="spacing" style="stroke-width:.05px">235</text>
<path d="M309.2 286.9H326.8" stroke="#000" stroke-width="2.4" fill="none"/>
<path d="M318 281.6L323.3 292L312.7 292Z" fill="#000" stroke="none"/>
<text transform="translate(335.5 293.9) scale(1.0 1.04)" font-size="20.5" text-anchor="start" textLength="34.4" lengthAdjust="spacing" style="stroke-width:.05px">242</text>
<path d="M383.5 286.9H401.1" stroke="#000" stroke-width="2.4" fill="none"/>
<path d="M392.3 280.2L399 286.9L392.3 293.6L385.6 286.9Z" fill="#000" stroke="none"/>
<text transform="translate(408.5 293.9) scale(1.0 1.04)" font-size="20.5" text-anchor="start" textLength="34.4" lengthAdjust="spacing" style="stroke-width:.05px">363</text>
<path d="M240.3 305.7H257.9" stroke="#000" stroke-width="2.4" fill="none"/>
<rect x="243.9" y="300.5" width="10.4" height="10.4" fill="#000" stroke="none"/>
<text transform="translate(267 313.2) scale(1.0 1.04)" font-size="20.5" text-anchor="start" textLength="34.4" lengthAdjust="spacing" style="stroke-width:.05px">236</text>
<path d="M309.2 305.7H326.8" stroke="#000" stroke-width="2.4" fill="none"/>
<path d="M318 311L323.3 300.6L312.7 300.6Z" fill="#000" stroke="none"/>
<text transform="translate(335.5 313.2) scale(1.0 1.04)" font-size="20.5" text-anchor="start" textLength="34.4" lengthAdjust="spacing" style="stroke-width:.05px">362</text>
<path d="M383.5 305.7H401.1" stroke="#000" stroke-width="2.4" fill="none"/>
<path d="M392.3 299.3L394 303.95L398.96 304.14L395.06 307.2L396.41 311.96L392.3 309.2L388.19 311.96L389.54 307.2L385.64 304.14L390.6 303.95Z" fill="#000" stroke="none"/>
<text transform="translate(408.5 313.2) scale(1.0 1.04)" font-size="20.5" text-anchor="start" textLength="34.4" lengthAdjust="spacing" style="stroke-width:.05px">369</text>
<text transform="translate(239.6 599) scale(1.0 1.08)" font-size="24.5" text-anchor="start" textLength="249" lengthAdjust="spacing">CD8 &amp; CD20 depleted</text>
<path d="M240.1 616.9H257.9" stroke="#000" stroke-width="2.4" fill="none"/>
<rect x="244.05" y="611.95" width="9.9" height="9.9" fill="none" stroke="#000" stroke-width="1.65"/>
<text transform="translate(267 624) scale(1.0 1.04)" font-size="20.5" text-anchor="start" textLength="34.4" lengthAdjust="spacing" style="stroke-width:.05px">361</text>
<path d="M312 616.9H329.4" stroke="#000" stroke-width="2.4" fill="none"/>
<path d="M320.8 621.2L325.1 611.8L316.5 611.8Z" fill="none" stroke="#000" stroke-width="1.65"/>
<text transform="translate(338.8 624) scale(1.0 1.04)" font-size="20.5" text-anchor="start" textLength="34.4" lengthAdjust="spacing" style="stroke-width:.05px">365</text>
<path d="M385 616.9H402.8" stroke="#000" stroke-width="2.4" fill="none"/>
<circle cx="393.9" cy="616.9" r="4.8" fill="none" stroke="#000" stroke-width="1.65"/>
<text transform="translate(411.4 624) scale(1.0 1.04)" font-size="20.5" text-anchor="start" textLength="34.4" lengthAdjust="spacing" style="stroke-width:.05px">367</text>
<path d="M240.1 635.8H257.9" stroke="#000" stroke-width="2.4" fill="none"/>
<path d="M249 631.5L253.3 640.9L244.7 640.9Z" fill="none" stroke="#000" stroke-width="1.65"/>
<text transform="translate(267 643.2) scale(1.0 1.04)" font-size="20.5" text-anchor="start" textLength="34.4" lengthAdjust="spacing" style="stroke-width:.05px">364</text>
<path d="M312 635.8H329.4" stroke="#000" stroke-width="2.4" fill="none"/>
<path d="M320.8 629.8L326.8 635.8L320.8 641.8L314.8 635.8Z" fill="none" stroke="#000" stroke-width="1.65"/>
<text transform="translate(338.8 643.2) scale(1.0 1.04)" font-size="20.5" text-anchor="start" textLength="34.4" lengthAdjust="spacing" style="stroke-width:.05px">366</text>
<path d="M385 635.8H402.8" stroke="#000" stroke-width="2.4" fill="none"/>
<path d="M388.4 630.7Q393.9 635.2 399.4 630.7Q394.2 635.8 399.4 640.9Q393.9 636.4 388.4 640.9Q393.6 635.8 388.4 630.7Z" fill="none" stroke="#000" stroke-width="1.65" stroke-linejoin="miter" stroke-miterlimit="2"/>
<text transform="translate(411.4 643.2) scale(1.0 1.04)" font-size="20.5" text-anchor="start" textLength="34.4" lengthAdjust="spacing" style="stroke-width:.05px">368</text>
<text x="240" y="927.1" font-size="24.5" text-anchor="start" textLength="85.4" lengthAdjust="spacing">Median</text>
<path d="M240.1 940.9H257.9" stroke="#000" stroke-width="2.4" fill="none"/>
<circle cx="249" cy="940.9" r="5.25" fill="#000" stroke="none"/>
<text transform="translate(266.9 948.2) scale(1.0 0.97)" font-size="20.5" text-anchor="start" textLength="72.6" lengthAdjust="spacing" style="stroke-width:.25px">Control</text>
<path d="M240.1 962.2H257.9" stroke="#000" stroke-width="2.4" fill="none" stroke-dasharray="7.7 3.8"/>
<rect x="243.95" y="957.25" width="9.9" height="9.9" fill="none" stroke="#000" stroke-width="1.65"/>
<text transform="translate(266.9 969.3) scale(1.0 0.97)" font-size="20.5" text-anchor="start" textLength="214" lengthAdjust="spacing" style="stroke-width:.25px">CD8 &amp; CD20 depleted</text>
</svg>
</body></html>
